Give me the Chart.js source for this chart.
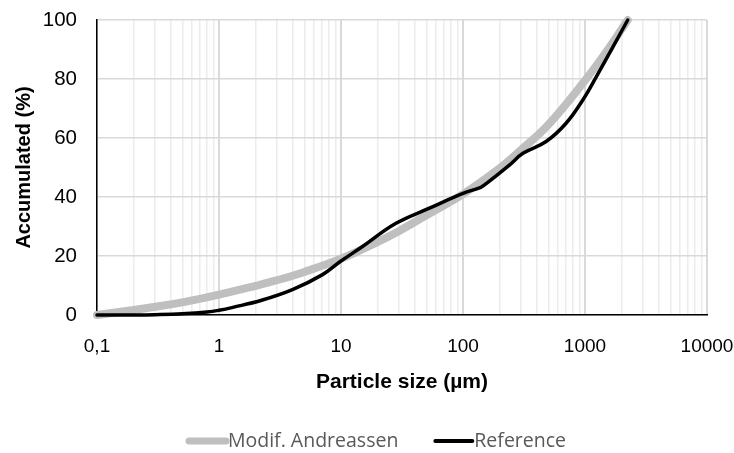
<!DOCTYPE html>
<html>
<head>
<meta charset="utf-8">
<script src="https://cdn.jsdelivr.net/npm/chart.js@4.4.1/dist/chart.umd.min.js"></script>
<style>
  html, body { margin: 0; padding: 0; background: #fff; }
  #box { width: 734px; height: 453px; }
</style>
</head>
<body>
<div id="box"><canvas id="psd_chart"></canvas></div>
<script>
// particle size distributions, cumulative % passing
var andreassen_size = [0.1, 0.2, 0.3, 0.5, 1, 2, 3, 5, 10, 20, 30, 50, 100, 200, 300, 500, 1000, 1500, 2240];
var andreassen_pct  = [0, 1.7, 2.8, 4.3, 6.9, 9.9, 11.8, 14.6, 19.1, 24.8, 28.5, 33.8, 41, 49.8, 56, 64.5, 79.5, 89.3, 100];

var reference_size = [0.1, 0.2, 0.3, 0.5, 0.8, 1, 1.3, 2.2, 4, 7, 10, 15, 28, 53, 100, 140, 155, 240, 310, 480, 700, 960, 1240, 1700, 2240];
var reference_pct  = [0, 0, 0.1, 0.4, 1, 1.6, 2.6, 4.9, 8.6, 13.6, 18.3, 23.2, 31, 36.2, 41.2, 43.3, 44.5, 50.8, 54.8, 58.8, 65, 72.9, 80.8, 91, 100];

var series_names = ["Modif. Andreassen", "Reference"];

// axis ticks
var x_decades = [0.1, 1, 10, 100, 1000, 10000];
var x_labels  = ["0,1", "1", "10", "100", "1000", "10000"];
var y_ticks   = [0, 20, 40, 60, 80, 100];

function points(xs, ys) {
  var out = [];
  for (var i in xs) out.push({x: xs[i], y: ys[i]});
  return out;
}

// axes keep the plot box where the layout padding puts it
function no_scale_padding(scale) {
  scale.paddingLeft = 0;
  scale.paddingRight = 0;
  scale.paddingTop = 0;
  scale.paddingBottom = 0;
}

// legend under the plot: short line, then the name right after it
var bottom_legend = {
  id: 'bottom_legend',
  afterDraw: function(chart) {
    var ctx = chart.ctx;
    var sets = chart.data.datasets;
    var line_len = 42, gap = 34;
    ctx.save();
    ctx.font = '19.5px "Open Sans"';
    var total = 0;
    for (var i = 0; i < sets.length; i++) {
      total += line_len + ctx.measureText(sets[i].label).width;
      if (i > 0) total += gap;
    }
    var x = (chart.width - total) / 2 + 9;
    var y = 441;
    for (var i = 0; i < sets.length; i++) {
      ctx.strokeStyle = sets[i].borderColor;
      ctx.lineWidth = sets[i].legendWidth;
      ctx.lineCap = 'round';
      ctx.beginPath();
      ctx.moveTo(x + 3, y);
      ctx.lineTo(x + line_len - 2, y);
      ctx.stroke();
      x += line_len;
      ctx.fillStyle = '#595959';
      ctx.textBaseline = 'middle';
      ctx.fillText(sets[i].label, x, y);
      x += ctx.measureText(sets[i].label).width + gap;
    }
    ctx.restore();
  }
};

new Chart(document.getElementById("psd_chart"), {
  type: 'line',
  data: {
    datasets: [{
        label: series_names[0],
        data: points(andreassen_size, andreassen_pct),
        borderColor: "#bfbfbf",
        borderWidth: 8,
        legendWidth: 7,
        borderCapStyle: 'round',
        borderJoinStyle: 'round',
        tension: 0.4,
        pointRadius: 0,
        clip: false,
        order: 1
      }, {
        label: series_names[1],
        data: points(reference_size, reference_pct),
        borderColor: "#000000",
        borderWidth: 3.5,
        legendWidth: 4,
        borderCapStyle: 'round',
        borderJoinStyle: 'round',
        tension: 0.4,
        pointRadius: 0,
        clip: false,
        order: 0
      }
    ]
  },
  plugins: [bottom_legend],
  options: {
    responsive: true,
    maintainAspectRatio: false,
    animation: false,
    layout: { padding: { left: 12, right: 27, top: 20, bottom: 58 } },
    plugins: {
      legend: { display: false },
      tooltip: { enabled: false }
    },
    scales: {
      x: {
        type: 'logarithmic',
        min: 0.1,
        max: 10000,
        afterBuildTicks: function(scale) {
          var t = [];
          for (var d = 0; d < x_decades.length; d++) {
            t.push({value: x_decades[d], major: true});
            if (d == x_decades.length - 1) break;
            for (var m = 2; m <= 9; m++) t.push({value: x_decades[d] * m, major: false});
          }
          scale.ticks = t;
        },
        afterFit: function(scale) {
          scale.height = 80;
          no_scale_padding(scale);
        },
        ticks: {
          autoSkip: false,
          maxRotation: 0,
          padding: 20,
          color: '#000',
          font: { family: '"Liberation Sans", Arial', size: 19 },
          callback: function(value) {
            var k = x_decades.indexOf(value);
            return k < 0 ? '' : x_labels[k];
          }
        },
        grid: {
          drawTicks: false,
          color: function(c) { return c.tick && c.tick.major ? '#d9d9d9' : '#ececec'; },
          lineWidth: function(c) { return c.tick && c.tick.major ? 2 : 1.5; }
        },
        border: { color: '#000', width: 1.5 },
        title: {
          display: true,
          text: 'Particle size (\u00b5m)',
          color: '#000',
          padding: 0,
          font: { family: '"Liberation Sans", Arial', size: 21, weight: 'bold' }
        }
      },
      y: {
        min: 0,
        max: 100,
        afterBuildTicks: function(scale) {
          scale.ticks = y_ticks.map(function(v) { return {value: v}; });
        },
        afterFit: function(scale) {
          scale.width = 85;
          no_scale_padding(scale);
        },
        ticks: {
          padding: 20,
          color: '#000',
          font: { family: '"Liberation Sans", Arial', size: 20.5 }
        },
        grid: { drawTicks: false, color: '#d9d9d9', lineWidth: 1.5 },
        border: { color: '#000', width: 1.5 },
        title: {
          display: true,
          text: 'Accumulated (%)',
          color: '#000',
          padding: 0,
          font: { family: '"Liberation Sans", Arial', size: 20, weight: 'bold' }
        }
      }
    }
  }
});
</script>
</body>
</html>
